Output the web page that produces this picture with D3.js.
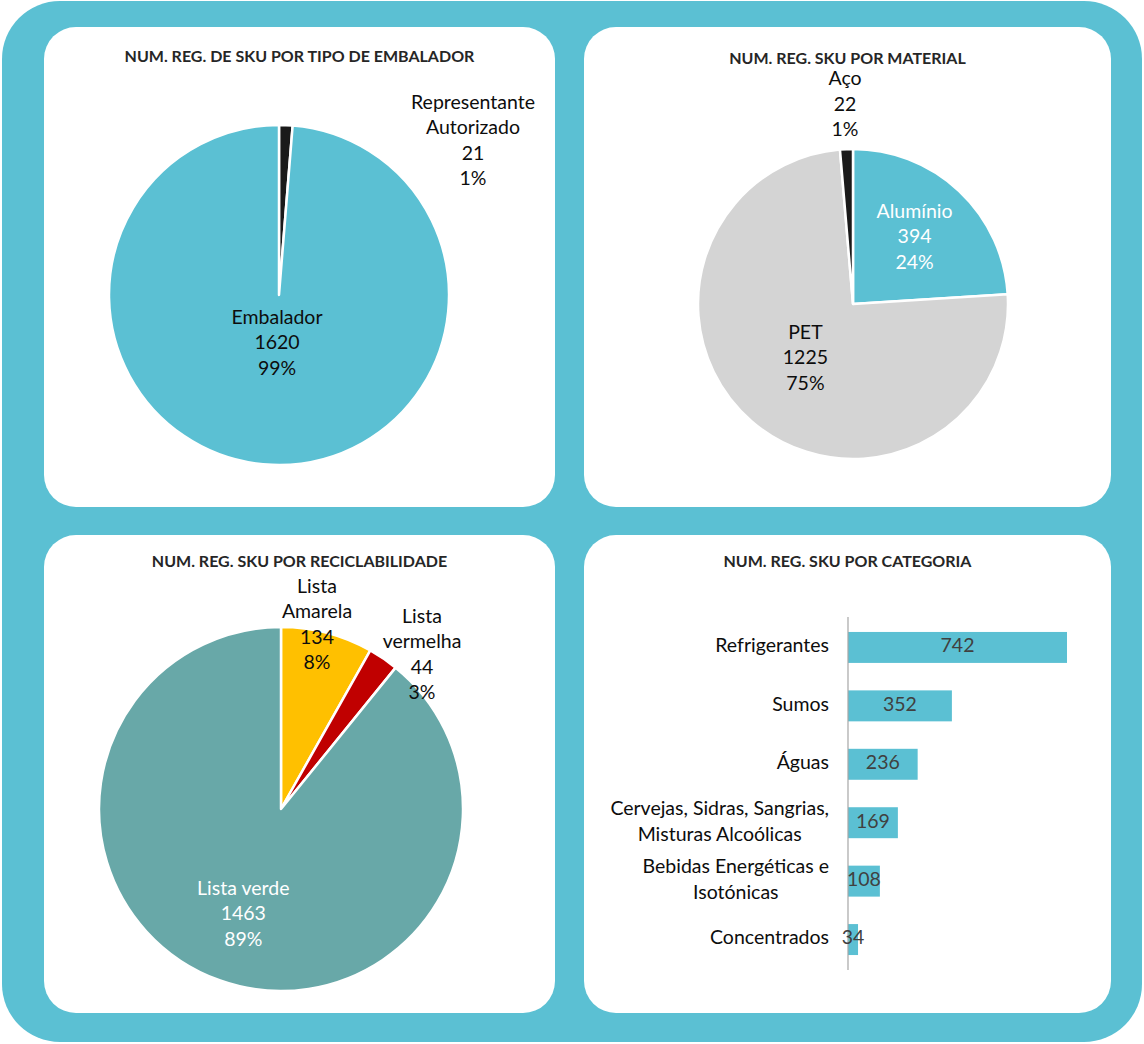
<!DOCTYPE html>
<html>
<head>
<meta charset="utf-8">
<script src="https://cdn.jsdelivr.net/npm/d3@7"></script>
<style>
  html, body { margin: 0; padding: 0; background: #ffffff; }
  svg { display: block; }
</style>
</head>
<body>
<div id="chart"></div>
<script>
(function () {
  "use strict";

  // ---- data ----
  const embaladorLabels = ["Representante Autorizado", "Embalador"];
  const embaladorValues = [21, 1620];
  const embaladorPct = ["1%", "99%"];

  const materialLabels = ["Alumínio", "PET", "Aço"];
  const materialValues = [394, 1225, 22];
  const materialPct = ["24%", "75%", "1%"];

  const reciclLabels = ["Lista Amarela", "Lista vermelha", "Lista verde"];
  const reciclValues = [134, 44, 1463];
  const reciclPct = ["8%", "3%", "89%"];

  const categorias = [
    "Refrigerantes", "Sumos", "Águas",
    "Cervejas, Sidras, Sangrias, Misturas Alcoólicas",
    "Bebidas Energéticas e Isotónicas", "Concentrados"
  ];
  const categoriaLines = [
    ["Refrigerantes"], ["Sumos"], ["Águas"],
    ["Cervejas, Sidras, Sangrias,", "Misturas Alcoólicas"],
    ["Bebidas Energéticas e", "Isotónicas"], ["Concentrados"]
  ];
  const categoriaValues = [742, 352, 236, 169, 108, 34];

  const titles = [
    "NUM. REG. DE SKU POR TIPO DE EMBALADOR",
    "NUM. REG. SKU POR MATERIAL",
    "NUM. REG. SKU POR RECICLABILIDADE",
    "NUM. REG. SKU POR CATEGORIA"
  ];

  // ---- styling ----
  const W = 1144, H = 1044;
  const FONT = "Lato, 'Open Sans', 'DejaVu Sans', sans-serif";
  const LABEL_SIZE = "19.5px";
  const TEAL = "#5bc0d3";
  const TEXT = "#0d0d0d";

  const svg = d3.select("#chart").append("svg")
    .attr("width", W).attr("height", H);

  // outer frame
  svg.append("rect").attr("x", 2).attr("y", 1).attr("width", W - 4).attr("height", H - 3)
    .attr("rx", 58).attr("fill", TEAL);

  // panels
  const panels = [
    { x: 44, y: 27, w: 511, h: 480 },
    { x: 584, y: 27, w: 527, h: 480 },
    { x: 44, y: 535, w: 511, h: 478 },
    { x: 584, y: 535, w: 527, h: 478 }
  ];
  const titleY = [58, 60, 563, 563];
  panels.forEach((p, i) => {
    svg.append("rect").attr("x", p.x).attr("y", p.y).attr("width", p.w).attr("height", p.h)
      .attr("rx", 32).attr("fill", "#ffffff");
    svg.append("text").attr("x", p.x + p.w / 2).attr("y", titleY[i])
      .attr("text-anchor", "middle").attr("dominant-baseline", "middle")
      .attr("font-family", FONT).attr("font-weight", "bold").attr("font-size", "16px")
      .attr("fill", "#262626").text(titles[i]);
  });

  function multiLine(g, x, y, lines, color, lh) {
    const t = g.append("text").attr("text-anchor", "middle")
      .attr("font-family", FONT).attr("font-size", LABEL_SIZE).attr("fill", color);
    const y0 = y - (lines.length - 1) * lh / 2;
    lines.forEach((ln, i) => {
      t.append("tspan").attr("x", x).attr("y", y0 + i * lh)
        .attr("dominant-baseline", "middle").text(ln);
    });
  }

  // pie helper: labelCfg per slice is {r: fraction of radius} or {dx, dy}
  function drawPie(cx, cy, R, labels, values, pcts, colors, labelCfg, labelColors) {
    const g = svg.append("g").attr("transform", `translate(${cx},${cy})`);
    const pie = d3.pie().sort(null).value(d => d)(values);
    const arc = d3.arc().innerRadius(0).outerRadius(R);
    g.selectAll("path").data(pie).join("path")
      .attr("d", arc).attr("fill", (d, i) => colors[i])
      .attr("stroke", "#ffffff").attr("stroke-width", 2.5).attr("stroke-linejoin", "round");
    pie.forEach((d, i) => {
      const cfg = labelCfg[i];
      let x, y;
      if (cfg.r !== undefined) {
        const c = d3.arc().innerRadius(cfg.r * R).outerRadius(cfg.r * R).centroid(d);
        x = c[0]; y = c[1];
      } else {
        x = cfg.dx; y = cfg.dy;
      }
      const nameLines = cfg.split ? labels[i].split(" ") : [labels[i]];
      multiLine(g, x, y, nameLines.concat([String(values[i]), pcts[i]]), labelColors[i], 25.5);
    });
  }

  drawPie(279, 295, 170, embaladorLabels, embaladorValues, embaladorPct,
    ["#1a1a1a", TEAL],
    [{ dx: 194, dy: -153, split: true }, { r: 0.29 }],
    [TEXT, TEXT]);

  drawPie(853, 304, 155, materialLabels, materialValues, materialPct,
    [TEAL, "#d4d4d4", "#1a1a1a"],
    [{ r: 0.58 }, { r: 0.47 }, { dx: -8, dy: -198 }],
    ["#ffffff", TEXT, TEXT]);

  drawPie(281, 809, 182, reciclLabels, reciclValues, reciclPct,
    ["#ffc000", "#c00000", "#68a8a8"],
    [{ dx: 36, dy: -183, split: true }, { dx: 141, dy: -153, split: true }, { r: 0.62 }],
    [TEXT, TEXT, "#ffffff"]);

  // ---- bar chart ----
  const x = d3.scaleLinear().domain([0, d3.max(categoriaValues)]).range([848, 1067]);
  const y = d3.scaleBand().domain(categorias).range([617, 970])
    .paddingInner(0.47).paddingOuter(0.256);
  const bars = svg.append("g");
  bars.selectAll("rect").data(categorias).join("rect")
    .attr("x", x(0)).attr("y", d => y(d))
    .attr("width", (d, i) => x(categoriaValues[i]) - x(0))
    .attr("height", y.bandwidth()).attr("fill", TEAL);
  bars.append("line").attr("x1", x(0)).attr("x2", x(0)).attr("y1", 617).attr("y2", 970)
    .attr("stroke", "#a6a6a6").attr("stroke-width", 1.2);

  categorias.forEach((c, i) => {
    const cy = y(c) + y.bandwidth() / 2;
    bars.append("text").attr("x", (x(0) + x(categoriaValues[i])) / 2).attr("y", cy)
      .attr("text-anchor", "middle").attr("dominant-baseline", "middle")
      .attr("font-family", FONT).attr("font-size", LABEL_SIZE).attr("fill", "#404040")
      .text(categoriaValues[i]);
    // category labels: block right-aligned, lines centered within the block
    const lines = categoriaLines[i];
    const t = bars.append("text").attr("font-family", FONT).attr("font-size", LABEL_SIZE)
      .attr("fill", TEXT).attr("text-anchor", "middle");
    const spans = lines.map((ln, k) => t.append("tspan")
      .attr("y", cy - (lines.length - 1) * 13 + k * 26)
      .attr("dominant-baseline", "middle").text(ln));
    const maxW = d3.max(spans, s => s.node().getComputedTextLength());
    spans.forEach(s => s.attr("x", 829 - maxW / 2));
  });
})();
</script>
</body>
</html>
